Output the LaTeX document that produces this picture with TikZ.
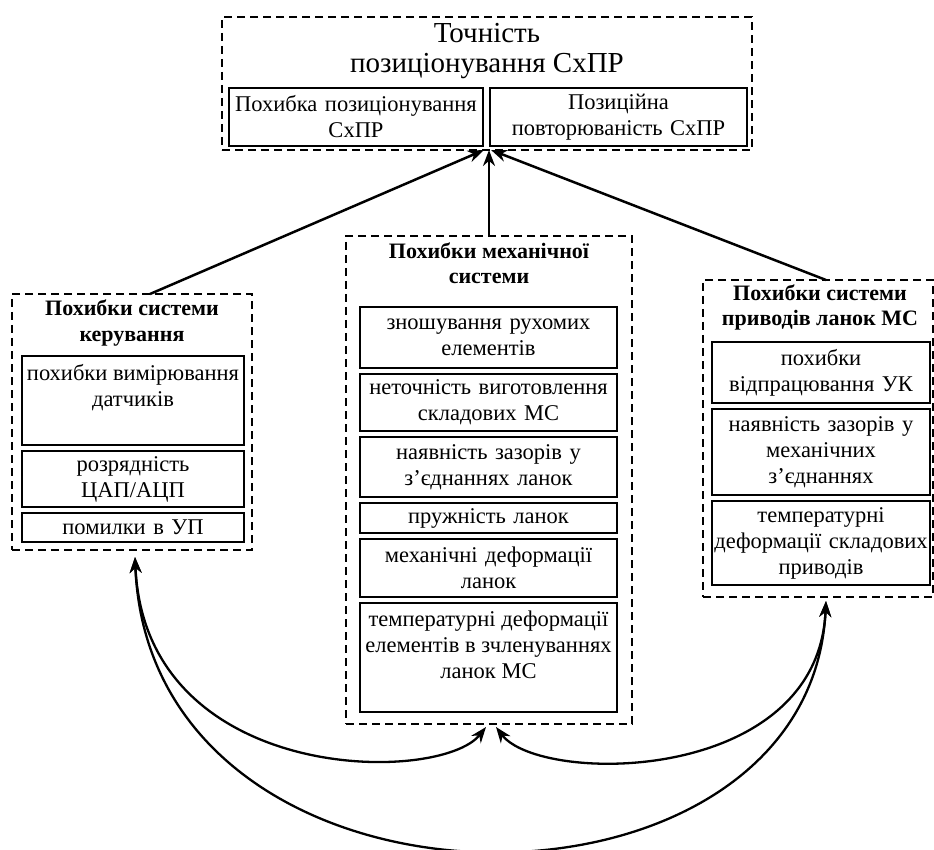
\documentclass[tikz,border=0pt]{standalone}
\usepackage{fontspec}
\setmainfont{Liberation Serif}
\usetikzlibrary{arrows.meta,positioning,calc}

% text set at the top of a tall cell
\newcommand{\topcell}[3]{\parbox[c][#1][t]{#2}{\centering\vspace*{8pt}#3}}

\begin{document}
\begin{tikzpicture}[x=1pt, y=-1pt,
    font=\fontsize{22.5}{26}\selectfont,
    grbox/.style={draw, dash pattern=on 8pt off 5pt, line width=1.9pt, inner sep=0pt, outer sep=0pt},
    itbox/.style={draw, line width=1.8pt, inner sep=0pt, outer sep=0pt, align=center},
    ttl/.style={font=\fontsize{22}{25.5}\selectfont\bfseries, align=center, inner sep=0pt},
    ar/.style={-{Stealth[length=16pt, width=12pt]}, line width=2.5pt},
    br/.style={{Stealth[length=16pt, width=12pt]}-{Stealth[length=16pt, width=12pt]}, line width=2.3pt}
  ]
  \useasboundingbox (0,0) rectangle (934,850);

  % top: overall accuracy
  \node[grbox, minimum width=530pt, minimum height=133pt] (top) at (487,83.5) {};
  \node[font=\fontsize{29}{30}\selectfont, align=center, inner sep=0pt] (topttl) at (487,51)
    {Точність\\позиціонування СхПР};
  \node[itbox, minimum width=254pt, minimum height=58pt, text width=252pt] (pe) at (356,117)
    {Похибка позиціонування\\СхПР};
  \node[itbox, minimum width=257pt, minimum height=58pt, text width=255pt] (pr) at (618.5,117)
    {Позиційна\\повторюваність СхПР};

  % control system
  \node[grbox, minimum width=240pt, minimum height=256pt] (ctl) at (132,422) {};
  \node[ttl] (ctlttl) at (132,323) {Похибки системи\\керування};
  \node[itbox, minimum width=222pt] (ctl1) at (133,400.5)
    {\topcell{89pt}{222pt}{похибки вимірювання\\датчиків}};
  \node[itbox, minimum width=222pt, minimum height=56pt, text width=220pt, below=6pt of ctl1] (ctl2)
    {розрядність\\ЦАП/АЦП};
  \node[itbox, minimum width=222pt, minimum height=29pt, text width=220pt, below=6pt of ctl2] (ctl3)
    {помилки в УП};

  % mechanical system
  \node[grbox, minimum width=286pt, minimum height=488pt] (mech) at (489,480) {};
  \node[ttl] (mechttl) at (489,263) {Похибки механічної\\системи};
  \node[itbox, minimum width=257pt, minimum height=61pt, text width=255pt] (m1) at (488.5,337.5)
    {зношування рухомих\\елементів};
  \node[itbox, minimum width=257pt, minimum height=57pt, text width=255pt, below=6pt of m1] (m2)
    {неточність виготовлення\\складових МС};
  \node[itbox, minimum width=257pt, minimum height=60pt, text width=255pt, below=6pt of m2] (m3)
    {наявність зазорів у\\з’єднаннях ланок};
  \node[itbox, minimum width=257pt, minimum height=30pt, text width=255pt, below=6pt of m3] (m4)
    {пружність ланок};
  \node[itbox, minimum width=257pt, minimum height=58pt, text width=255pt, below=6pt of m4] (m5)
    {механічні деформації\\ланок};
  \node[itbox, minimum width=257pt, below=6pt of m5] (m6)
    {\topcell{109pt}{257pt}{температурні деформації\\елементів в зчленуваннях\\ланок МС}};

  % drive system
  \node[grbox, minimum width=230pt, minimum height=317pt] (drv) at (818,438.5) {};
  \node[ttl] (drvttl) at (820,307.5) {Похибки системи\\приводів ланок МС};
  \node[itbox, minimum width=218pt, minimum height=61pt, text width=216pt] (d1) at (821,372.5)
    {похибки\\відпрацювання УК};
  \node[itbox, minimum width=218pt, minimum height=86pt, text width=216pt, below=6pt of d1] (d2)
    {наявність зазорів у\\механічних\\з’єднаннях};
  \node[itbox, minimum width=218pt, minimum height=84pt, text width=216pt, below=6pt of d2] (d3)
    {температурні\\деформації складових\\приводів};

  % influence on the top block
  \coordinate (ctlTop) at ($(ctl.north west)+(138,0)$);
  \coordinate (drvTop) at ($(drv.north east)+(-107,0)$);
  \draw[ar] (ctlTop) -- ($(top.south)+(-3,0)$);
  \draw[ar] (mech.north) -- (mech.north |- top.south);
  \draw[ar] (drvTop) -- ($(top.south)+(4,0)$);

  % mutual links below
  \coordinate (ctlBot) at ($(ctl.south)+(3,7)$);
  \coordinate (mechBotL) at ($(mech.south)+(-3,3)$);
  \coordinate (mechBotR) at ($(mech.south)+(7,3)$);
  \coordinate (drvBot) at ($(drv.south)+(8,4)$);
  \draw[br] (ctlBot) .. controls (145,785) and (440,785) .. (mechBotL);
  \draw[br] (drvBot) .. controls (818,785) and (540,785) .. (mechBotR);
  \draw[br] (ctlBot) .. controls (150,940) and (810,940) .. (drvBot);
\end{tikzpicture}
\end{document}
